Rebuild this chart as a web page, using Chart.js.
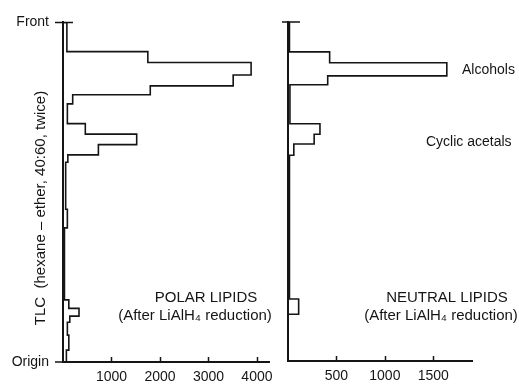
<!DOCTYPE html>
<html lang="en">
<head>
    <meta charset="UTF-8">
    <title>TLC radioactivity scans</title>
    <style>
        body {
            margin: 0;
            background-color: #ffffff;
        }
        .wrap {
            position: relative;
            width: 519px;
            height: 385px;
        }
        .panel {
            position: absolute;
            top: 0;
        }
        #polarChart { left: 0; }
        #neutralChart { left: 280px; }
    </style>
</head>
<body>
    <div class="wrap">
        <canvas id="polarChart" class="panel" width="280" height="385"></canvas>
        <canvas id="neutralChart" class="panel" width="239" height="385"></canvas>
    </div>

    <script src="https://cdn.jsdelivr.net/npm/chart.js"></script>
    <script>
        // TLC position (0 = origin, 100 = front), zone edges from front to origin
        var polarEdges = [100, 91.4, 88.2, 84.5, 81.3, 78.7, 76.0, 70.2, 67.1, 64.0, 61.0, 58.8, 45.0, 39.5, 18.3, 15.8, 13.5, 11.7, 7.9, 3.5, 0];
        var polarCounts = [80, 1750, 3880, 3510, 1800, 200, 90, 460, 1520, 730, 100, 55, 90, 30, 120, 330, 140, 90, 120, 70];

        var neutralEdges = [100, 91.2, 88.0, 84.1, 81.5, 70.0, 66.9, 64.0, 60.7, 18.3, 13.8, 0];
        var neutralCounts = [15, 430, 1640, 410, 20, 330, 270, 60, 15, 110, 0];

        var polarTicks = [1000, 2000, 3000, 4000];
        var neutralTicks = [500, 1000, 1500];

        var ink = '#151515';
        var fontName = '"Liberation Sans", Arial, sans-serif';

        function outline(edges, counts) {
            var pts = [{ x: 0, y: edges[0] }];
            for (var i = 0; i < counts.length; i++) {
                pts.push({ x: counts[i], y: edges[i] });
                pts.push({ x: counts[i], y: edges[i + 1] });
            }
            pts.push({ x: 0, y: edges[edges.length - 1] });
            return pts;
        }

        // inward tick marks, front marker and the text labels
        var decorations = {
            id: 'decorations',
            afterDraw: function (chart, args, opts) {
                var ctx = chart.ctx, xs = chart.scales.x, ys = chart.scales.y;
                ctx.save();
                ctx.strokeStyle = ink;
                ctx.lineWidth = 1.5;
                ctx.beginPath();
                opts.ticks.forEach(function (v) {
                    var px = Math.round(xs.getPixelForValue(v)) + 0.5;
                    ctx.moveTo(px, ys.bottom);
                    ctx.lineTo(px, ys.bottom - 5);
                });
                var top = ys.getPixelForValue(100);
                ctx.moveTo(xs.left - opts.frontLeft, top);
                ctx.lineTo(xs.left + opts.frontRight, top);
                if (opts.originLeft) {
                    var bot = ys.getPixelForValue(0);
                    ctx.moveTo(xs.left - opts.originLeft, bot);
                    ctx.lineTo(xs.left, bot);
                }
                ctx.stroke();

                ctx.fillStyle = ink;
                ctx.textBaseline = 'middle';
                opts.texts.forEach(function (t) {
                    ctx.font = t.size + 'px ' + fontName;
                    ctx.textAlign = t.align || 'center';
                    if (t.rotate) {
                        ctx.save();
                        ctx.translate(t.x, t.y);
                        ctx.rotate(-Math.PI / 2);
                        ctx.fillText(t.text, 0, 0);
                        ctx.restore();
                    } else {
                        ctx.fillText(t.text, t.x, t.y);
                    }
                });
                ctx.restore();
            }
        };

        function makeChart(id, edges, counts, ticks, xMax, yWidth, xHeight, pad, opts) {
            return new Chart(document.getElementById(id), {
                type: 'scatter',
                data: {
                    datasets: [{
                        data: outline(edges, counts),
                        showLine: true,
                        pointRadius: 0,
                        borderColor: ink,
                        borderWidth: 1.6,
                        fill: false
                    }]
                },
                options: {
                    responsive: false,
                    animation: false,
                    layout: { padding: pad },
                    plugins: {
                        legend: { display: false },
                        tooltip: { enabled: false },
                        decorations: opts
                    },
                    scales: {
                        x: {
                            type: 'linear',
                            min: 0,
                            max: xMax,
                            grid: { display: false, drawTicks: false },
                            border: { color: ink, width: 2 },
                            afterBuildTicks: function (scale) {
                                scale.ticks = ticks.map(function (v) { return { value: v }; });
                            },
                            ticks: {
                                padding: 7,
                                color: ink,
                                font: { family: fontName, size: 14 },
                                maxRotation: 0,
                                autoSkip: false,
                                callback: function (v) { return String(v); }
                            },
                            afterFit: function (scale) { scale.height = xHeight; }
                        },
                        y: {
                            type: 'linear',
                            min: 0,
                            max: 100,
                            grid: { display: false, drawTicks: false },
                            border: { color: ink, width: 2 },
                            afterBuildTicks: function (scale) {
                                scale.ticks = [{ value: 0 }, { value: 100 }];
                            },
                            ticks: {
                                display: opts.yLabels,
                                padding: 14,
                                color: ink,
                                font: { family: fontName, size: 14 },
                                callback: function (v) { return v === 100 ? 'Front' : 'Origin'; }
                            },
                            afterFit: function (scale) { scale.width = yWidth; }
                        }
                    }
                },
                plugins: [decorations]
            });
        }

        makeChart('polarChart', polarEdges, polarCounts, polarTicks, 4265, 63, 23,
            { top: 20, right: 8, left: 0, bottom: 0 },
            {
                ticks: polarTicks, frontLeft: 8, frontRight: 10, originLeft: 8, yLabels: true,
                texts: [
                    { text: 'TLC  (hexane – ether, 40:60, twice)', x: 41, y: 208, size: 15, rotate: true },
                    { text: 'POLAR LIPIDS', x: 206, y: 298, size: 15 },
                    { text: '(After LiAlH₄ reduction)', x: 195, y: 316, size: 15 }
                ]
            });

        makeChart('neutralChart', neutralEdges, neutralCounts, neutralTicks, 1900, 8, 24,
            { top: 22, right: 47, left: 0, bottom: 0 },
            {
                ticks: neutralTicks, frontLeft: 6, frontRight: 12, originLeft: 0, yLabels: false,
                texts: [
                    { text: 'Alcohols', x: 182, y: 70, size: 14, align: 'left' },
                    { text: 'Cyclic acetals', x: 146, y: 142, size: 14, align: 'left' },
                    { text: 'NEUTRAL LIPIDS', x: 167, y: 298, size: 15 },
                    { text: '(After LiAlH₄ reduction)', x: 161, y: 316, size: 15 }
                ]
            });
    </script>
</body>
</html>
